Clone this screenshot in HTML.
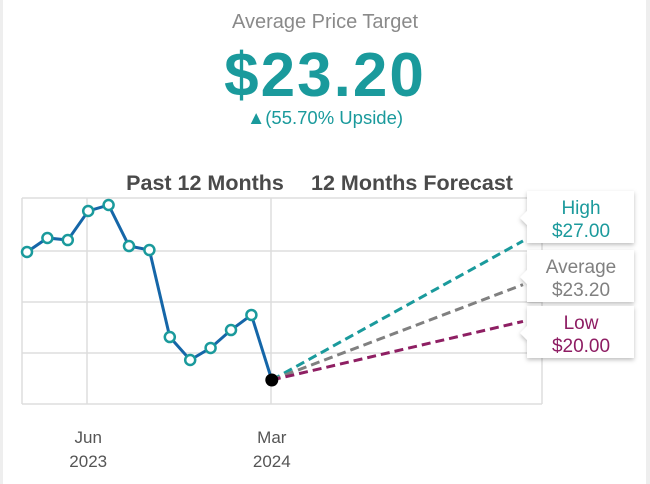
<!DOCTYPE html>
<html><head><meta charset="utf-8"><style>
body{margin:0;width:650px;height:484px;background:#fff;font-family:"Liberation Sans",sans-serif;overflow:hidden;position:relative}
.t{position:absolute;left:0;width:650px;text-align:center}
</style></head><body>
<div style="position:absolute;left:0;top:0;width:3px;height:484px;background:#eee"></div>
<div style="position:absolute;right:0;top:0;width:4px;height:484px;background:#eee"></div>
<div class="t" style="top:11px;font-size:20px;color:#8a8a8a">Average Price Target</div>
<div class="t" style="top:40px;font-size:62px;font-weight:bold;color:#1a9a9c;letter-spacing:2px">$23.20</div>
<div class="t" style="top:107px;font-size:18.5px;color:#1a9a9c">▲(55.70% Upside)</div>
<svg id="c" width="650" height="484" style="position:absolute;left:0;top:0"></svg>
<script>
const pastValues=[26.04,27.26,27.08,29.61,30.13,26.56,26.21,18.64,16.64,17.69,19.25,20.56,14.90];
const gridValues=[30.74,26.13,21.69,17.25,12.81];
const forecastNames=["High","Average","Low"];
const forecastValues=[27.00,23.20,20.00];
const forecastColors=["#1a9a9c","#808080","#8e1f63"];
const xLabels=[["Jun","2023",3],["Mar","2024",12]];
const svg=document.getElementById('c');const NS="http://www.w3.org/2000/svg";
const y=v=>380-(v-14.9)*11.49;const x=i=>27+i*20.4;const fx=523;
function el(t,a,p){const e=document.createElementNS(NS,t);for(const k in a)e.setAttribute(k,a[k]);(p||svg).appendChild(e);return e;}
gridValues.forEach(g=>{const l=el('line',{x1:22,x2:542,y1:y(g),y2:y(g),stroke:'#ddd','stroke-width':1.5});

});
[22,87,271,542].forEach(vx=>{const l=el('line',{x1:vx,x2:vx,y1:y(gridValues[0]),y2:y(gridValues[4]),stroke:'#ddd','stroke-width':1.5});

});
xLabels.forEach(([m,yr,i])=>{const t=el('text',{x:x(i),y:443,'text-anchor':'middle','font-size':17,fill:'#555'});t.textContent=m;


const t2=el('text',{x:x(i),y:467,'text-anchor':'middle','font-size':17,fill:'#555'});t2.textContent=yr;

});
[["Past 12 Months",205],["12 Months Forecast",412]].forEach(([s,cx])=>{const t=el('text',{x:cx,y:190,'text-anchor':'middle','font-size':21.5,'font-weight':'bold',fill:'#4a4a4a'});t.textContent=s;

});
const last=pastValues.length-1;
forecastValues.forEach((v,k)=>{const l=el('line',{x1:x(last),y1:y(pastValues[last]),x2:fx,y2:y(v),stroke:forecastColors[k],'stroke-width':3,'stroke-dasharray':'9,5'});

});
const pl=el('polyline',{points:pastValues.map((v,i)=>x(i)+','+y(v)).join(' '),fill:'none',stroke:'#1566a8','stroke-width':3});


pastValues.forEach((v,i)=>{const isLast=i===last;const c=el('circle',{cx:x(i),cy:y(v),r:isLast?6:5,fill:isLast?'#000':'#fff',stroke:isLast?'#000':'#1a9a9c','stroke-width':isLast?1:2.5});

});
const defs=el('defs',{});const f=el('filter',{id:'sh',x:'-20%',y:'-20%',width:'140%',height:'150%'},defs);el('feDropShadow',{dx:0,dy:2,stdDeviation:2,'flood-color':'#000','flood-opacity':0.25},f);
const boxTops=[191,250,306];
forecastValues.forEach((v,k)=>{const g=el('g',{filter:'url(#sh)'});


const top=boxTops[k];el('path',{d:`M527 ${top} H634 V${top+52} H527 V${top+34} L520 ${top+27} L527 ${top+20} Z`,fill:'#fff'},g);
const a=el('text',{x:581,y:top+23,'text-anchor':'middle','font-size':19,fill:forecastColors[k]},g);a.textContent=forecastNames[k];
const b=el('text',{x:581,y:top+46,'text-anchor':'middle','font-size':19,fill:forecastColors[k]},g);b.textContent='$'+v.toFixed(2);});
</script>
</body></html>
